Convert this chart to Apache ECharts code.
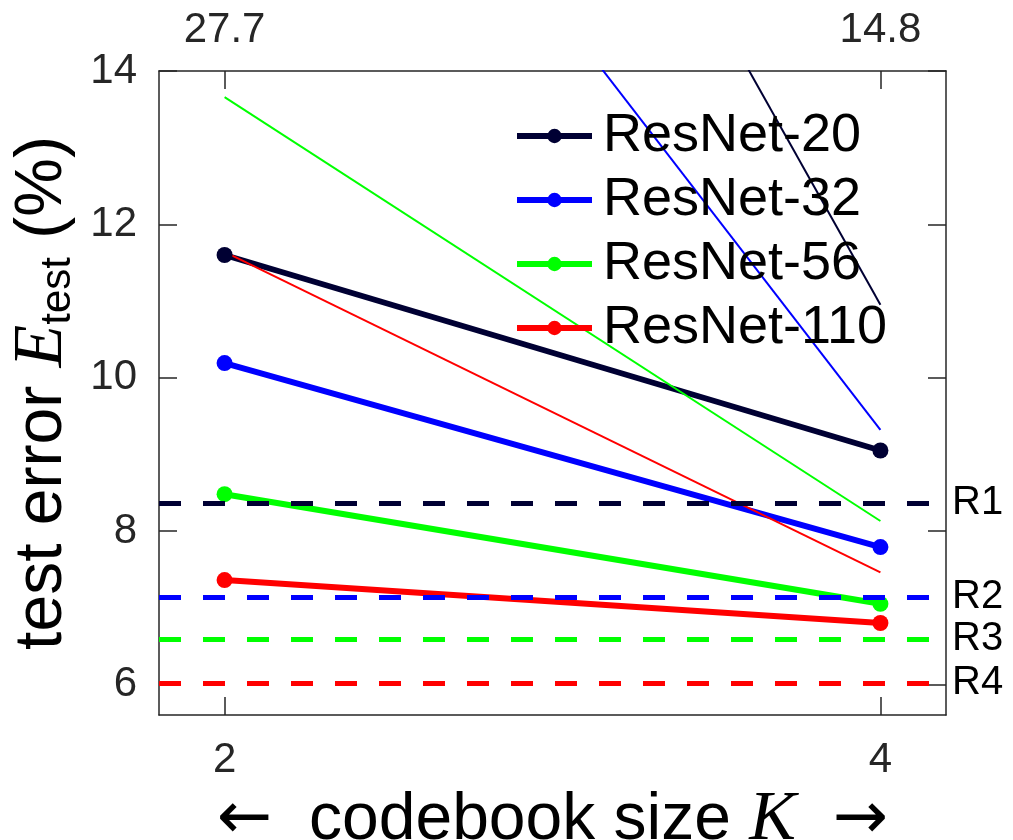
<!DOCTYPE html>
<html>
<head>
<meta charset="utf-8">
<script src="https://cdn.jsdelivr.net/npm/echarts@6/dist/echarts.min.js"></script>
<style>
  html, body { margin: 0; padding: 0; background: #fff; }
  #chart { width: 1013px; height: 840px; }
</style>
</head>
<body>
<div id="chart"></div>
<script>
// codebook sizes and tick labels
const kTicks = [2, 4];
const topLabels = ["27.7", "14.8"];
const yTicks = [6, 8, 10, 12, 14];

// models and their test error at K = 2, 4
const models = ["ResNet-20", "ResNet-32", "ResNet-56", "ResNet-110"];
const errThick = [
  [11.6, 9.05],
  [10.19, 7.79],
  [8.48, 7.05],
  [7.36, 6.8],
];
// thin lines (same colours, no markers)
const errThin = [
  [26.2, 10.95],
  [20.4, 9.32],
  [13.66, 8.13],
  [11.64, 7.46],
];

// reference levels
const refNames = ["R1", "R2", "R3", "R4"];
const refValues = [8.36, 7.14, 6.59, 6.02];

const palette = ["#000033", "#0000ff", "#00ff00", "#ff0000"];
const axisColor = "#262626";
const sans = "Liberation Sans, Arial, Helvetica, sans-serif";
const serif = "Liberation Serif, Times New Roman, serif";

let myChart = echarts.init(document.getElementById("chart"));

let series = [];

// dashed reference lines
series.push({
  name: "refs",
  type: "line",
  data: [],
  silent: true,
  markLine: {
    silent: true,
    symbol: "none",
    animation: false,
    data: refValues.map((v, i) => ({
      yAxis: v,
      lineStyle: { color: palette[i], width: 5, type: [22, 22] },
      label: {
        show: true,
        position: "end",
        formatter: refNames[i],
        color: "#000",
        fontSize: 40,
        fontFamily: sans,
        distance: 6,
      },
    })),
  },
});

// thick lines with markers
models.forEach((m, i) => {
  series.push({
    name: m,
    type: "line",
    data: kTicks.map((k, j) => [k, errThick[i][j]]),
    symbol: "circle",
    symbolSize: 16,
    itemStyle: { color: palette[i] },
    lineStyle: { color: palette[i], width: 6 },
  });
});

// thin lines
models.forEach((m, i) => {
  series.push({
    name: m + " thin",
    type: "line",
    data: kTicks.map((k, j) => [k, errThin[i][j]]),
    symbol: "none",
    lineStyle: { color: palette[i], width: 2 },
    clip: true,
  });
});

const boxLine = { show: true, onZero: false, lineStyle: { color: axisColor, width: 1.5 } };
const tickStyle = { color: axisColor, width: 1.5 };

let option = {
  animation: false,
  color: palette,
  grid: {
    left: 159,
    top: 71,
    width: 787,
    height: 644,
    containLabel: false,
    outerBoundsMode: "none",
  },
  legend: {
    data: models,
    orient: "vertical",
    left: 509,
    top: 104,
    itemWidth: 75,
    itemHeight: 18,
    itemGap: 10,
    lineStyle: { width: 6 },
    textStyle: {
      fontSize: 54,
      lineHeight: 54,
      fontFamily: sans,
      color: "#000",
      padding: [0, 0, 0, 6],
    },
  },
  xAxis: [
    {
      type: "value",
      position: "bottom",
      min: 1.8,
      max: 4.2,
      axisLine: boxLine,
      splitLine: { show: false },
      axisTick: { inside: true, length: 18, customValues: kTicks, lineStyle: tickStyle },
      axisLabel: {
        customValues: kTicks,
        fontSize: 42,
        fontFamily: sans,
        color: axisColor,
        margin: 24,
      },
      name: "{a|\u2190}  codebook size {i|K}  {a|\u2192}",
      nameLocation: "middle",
      nameGap: 68,
      nameTextStyle: {
        fontSize: 66,
        fontFamily: sans,
        color: "#000",
        rich: {
          a: { fontSize: 66, fontFamily: "DejaVu Sans", color: "#000" },
          i: { fontSize: 70, fontFamily: serif, fontStyle: "italic", color: "#000" },
        },
      },
    },
    {
      type: "value",
      position: "top",
      min: 1.8,
      max: 4.2,
      axisLine: boxLine,
      splitLine: { show: false },
      axisTick: { inside: true, length: 18, customValues: kTicks, lineStyle: tickStyle },
      axisLabel: {
        customValues: kTicks,
        fontSize: 42,
        fontFamily: sans,
        color: axisColor,
        margin: 20,
        formatter: (v) => topLabels[kTicks.indexOf(v)],
      },
    },
  ],
  yAxis: [
    {
      type: "value",
      position: "left",
      min: 5.6,
      max: 14,
      axisLine: boxLine,
      splitLine: { show: false },
      axisTick: { inside: true, length: 18, customValues: yTicks, lineStyle: tickStyle },
      axisLabel: {
        customValues: yTicks,
        fontSize: 42,
        fontFamily: sans,
        color: axisColor,
        margin: 22,
      },
      name: "test error {i|E}{sub|test} (%)",
      nameLocation: "middle",
      nameRotate: 90,
      nameGap: 80,
      nameTextStyle: {
        fontSize: 66,
        fontFamily: sans,
        color: "#000",
        rich: {
          i: { fontSize: 70, fontFamily: serif, fontStyle: "italic", color: "#000" },
          sub: { fontSize: 42, fontFamily: sans, color: "#000", verticalAlign: "bottom", padding: [30, 0, 0, 0] },
        },
      },
    },
    {
      type: "value",
      position: "right",
      min: 5.6,
      max: 14,
      axisLine: boxLine,
      splitLine: { show: false },
      axisTick: { inside: true, length: 18, customValues: yTicks, lineStyle: tickStyle },
      axisLabel: { show: false },
    },
  ],
  series: series,
};

myChart.setOption(option, true);

window.addEventListener("resize", () => {
  myChart.resize();
});
</script>
</body>
</html>
